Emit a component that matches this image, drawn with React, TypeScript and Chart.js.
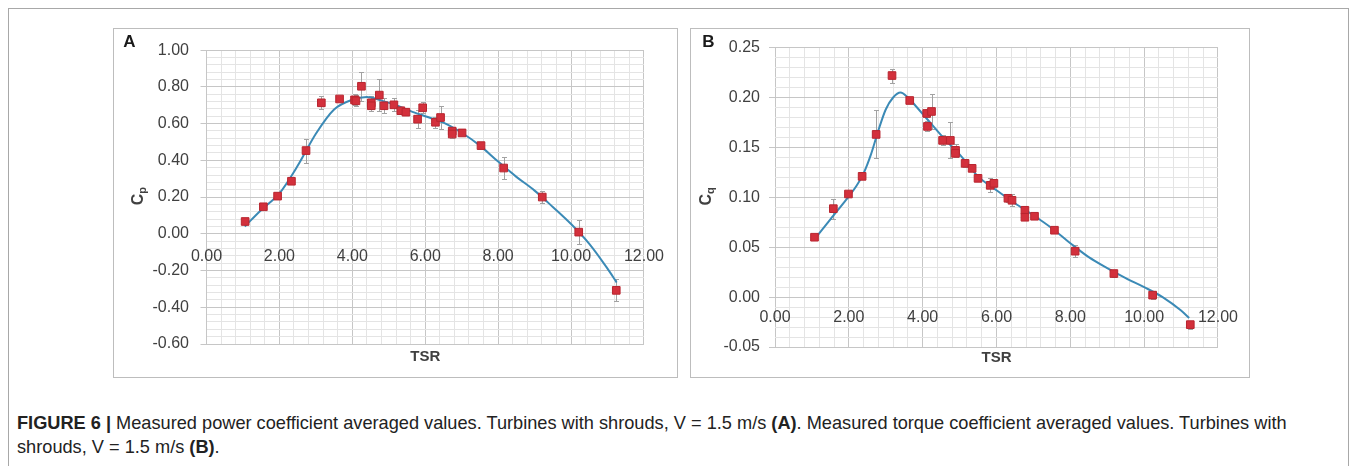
import React, { useEffect, useRef } from "react";
import { Chart, registerables } from "chart.js";

Chart.register(...registerables);

// ---- Panel A: power coefficient Cp against tip speed ratio ----
const tsrA = [1.06, 1.56, 1.95, 2.33, 2.73, 3.15, 3.65, 4.06, 4.1, 4.25, 4.52, 4.52, 4.74, 4.87, 5.14, 5.33, 5.47, 5.79, 5.93, 6.28, 6.42, 6.74, 6.74, 7.01, 7.53, 8.15, 9.21, 10.21, 11.24];
const cpA = [0.067, 0.147, 0.205, 0.286, 0.453, 0.713, 0.734, 0.729, 0.724, 0.803, 0.713, 0.697, 0.755, 0.697, 0.702, 0.67, 0.662, 0.624, 0.686, 0.607, 0.633, 0.559, 0.543, 0.549, 0.48, 0.358, 0.2, 0.009, -0.308];
const cpErrA = [0.01, 0.01, 0.012, 0.012, 0.065, 0.035, 0.012, 0.03, 0.03, 0.08, 0.035, 0.03, 0.085, 0.04, 0.035, 0.012, 0.012, 0.05, 0.03, 0.03, 0.06, 0.02, 0.02, 0.012, 0.012, 0.06, 0.035, 0.065, 0.06];
const trendTsrA = [1.05, 1.5, 2.0, 2.5, 3.0, 3.5, 4.0, 4.4, 4.8, 5.2, 5.6, 6.0, 6.5, 7.0, 7.5, 8.0, 8.5, 9.0, 9.5, 10.0, 10.5, 11.0, 11.25];
const trendCpA = [0.04, 0.13, 0.22, 0.37, 0.545, 0.677, 0.73, 0.745, 0.725, 0.7, 0.668, 0.64, 0.605, 0.55, 0.48, 0.393, 0.31, 0.235, 0.146, 0.053, -0.055, -0.19, -0.265];
const yMajorsA = [-0.6, -0.4, -0.2, 0, 0.2, 0.4, 0.6, 0.8, 1.0];

// ---- Panel B: torque coefficient Cq against tip speed ratio ----
const tsrB = [1.07, 1.58, 1.99, 2.36, 2.74, 3.17, 3.65, 4.11, 4.13, 4.24, 4.54, 4.75, 4.89, 4.89, 5.15, 5.34, 5.5, 5.83, 5.93, 6.31, 6.42, 6.77, 6.77, 7.03, 7.57, 8.13, 9.18, 10.23, 11.25];
const cqB = [0.06, 0.0886, 0.1033, 0.121, 0.163, 0.222, 0.197, 0.184, 0.171, 0.186, 0.157, 0.157, 0.147, 0.144, 0.134, 0.129, 0.119, 0.112, 0.114, 0.099, 0.097, 0.087, 0.08, 0.081, 0.067, 0.046, 0.0236, 0.002, -0.0276];
const cqErrB = [0.003, 0.01, 0.003, 0.003, 0.024, 0.007, 0.002, 0.004, 0.005, 0.018, 0.005, 0.018, 0.006, 0.004, 0.004, 0.003, 0.002, 0.007, 0.004, 0.004, 0.006, 0.004, 0.003, 0.002, 0.002, 0.006, 0.003, 0.004, 0.004];
const trendTsrB = [1.07, 1.5, 2.0, 2.2, 2.4, 2.6, 2.8, 3.0, 3.2, 3.4, 3.6, 3.8, 4.2, 4.6, 5.0, 5.5, 6.0, 6.5, 7.0, 7.5, 8.0, 8.5, 9.0, 9.5, 10.0, 10.5, 11.0, 11.22];
const trendCqB = [0.058, 0.078, 0.101, 0.111, 0.124, 0.143, 0.167, 0.188, 0.2, 0.205, 0.2, 0.192, 0.175, 0.158, 0.143, 0.121, 0.107, 0.094, 0.082, 0.069, 0.054, 0.04, 0.029, 0.019, 0.01, 0.0, -0.0135, -0.021];
const yMajorsB = [-0.05, 0, 0.05, 0.1, 0.15, 0.2, 0.25];

// shared horizontal axis
const xMajors = [0, 2, 4, 6, 8, 10, 12];

const TEXT = "#404040";
const GRID_MAJOR = "#c6c6c6";
const GRID_MINOR = "#e4e4e4";
const MARKER = "#d3303c";
const MARKER_EDGE = "#b8252f";
const TREND = "#3b8ab6";
const FONT = "'Liberation Sans', Arial, sans-serif";

type Tick = { value: number; isMajor: boolean };

// majors plus evenly spaced minor subdivisions between them
function withMinors(majors: number[], parts: number): Tick[] {
  const out: Tick[] = [];
  for (let i = 0; i < majors.length - 1; i++) {
    const a = majors[i];
    const b = majors[i + 1];
    for (let k = 0; k < parts; k++) {
      out.push({ value: k === 0 ? a : a + ((b - a) * k) / parts, isMajor: k === 0 });
    }
  }
  out.push({ value: majors[majors.length - 1], isMajor: true });
  return out;
}

const decorPlugin = {
  id: "decor",
  beforeDatasetsDraw(chart: any, _args: any, opts: any) {
    const { ctx } = chart;
    const meta = chart.getDatasetMeta(0);
    const ys = chart.scales.y;
    ctx.save();
    ctx.strokeStyle = "#a2a2a2";
    ctx.lineWidth = 1;
    opts.errors.forEach((e: number, i: number) => {
      const pt = meta.data[i];
      if (!pt) return;
      const v = opts.values[i];
      const x = Math.round(pt.x) + 0.5;
      const yTop = Math.round(ys.getPixelForValue(v + e)) + 0.5;
      const yBot = Math.round(ys.getPixelForValue(v - e)) + 0.5;
      ctx.beginPath();
      ctx.moveTo(x, yTop);
      ctx.lineTo(x, yBot);
      ctx.moveTo(x - 2.5, yTop);
      ctx.lineTo(x + 2.5, yTop);
      ctx.moveTo(x - 2.5, yBot);
      ctx.lineTo(x + 2.5, yBot);
      ctx.stroke();
    });
    ctx.restore();
  },
  afterDraw(chart: any, _args: any, opts: any) {
    const { ctx, chartArea } = chart;
    ctx.save();
    ctx.fillStyle = TEXT;
    // horizontal axis title
    ctx.font = `bold 15px ${FONT}`;
    ctx.textAlign = "center";
    ctx.textBaseline = "middle";
    ctx.fillText("TSR", (chartArea.left + chartArea.right) / 2, chartArea.bottom + opts.tsrGap);

    // vertical axis title with subscript, rotated
    ctx.save();
    ctx.translate(chartArea.left - 69, (chartArea.top + chartArea.bottom) / 2 - 1);
    ctx.rotate(-Math.PI / 2);
    ctx.font = `bold 16px ${FONT}`;
    const wC = ctx.measureText("C").width;
    ctx.font = `bold 11px ${FONT}`;
    const wS = ctx.measureText(opts.sub).width;
    const start = -(wC + wS) / 2;
    ctx.textAlign = "left";
    ctx.textBaseline = "alphabetic";
    ctx.font = `bold 16px ${FONT}`;
    ctx.fillText("C", start, 5);
    ctx.font = `bold 11px ${FONT}`;
    ctx.fillText(opts.sub, start + wC, 8);
    ctx.restore();

    // panel letter
    ctx.fillStyle = "#1a1a1a";
    ctx.font = `bold 17px ${FONT}`;
    ctx.textAlign = "center";
    ctx.textBaseline = "middle";
    ctx.fillText(opts.letter, opts.letterX, opts.letterY);
    ctx.restore();
  },
};

type PanelProps = {
  left: number;
  top: number;
  width: number;
  height: number;
  plotLeft: number;
  padRight: number;
  padTop: number;
  padBottom: number;
  tsr: number[];
  values: number[];
  errors: number[];
  trendX: number[];
  trendY: number[];
  yMajors: number[];
  letter: string;
  sub: string;
  letterX: number;
  letterY: number;
  tsrGap: number;
  xLabelPad: number;
  yLabelPad: number;
};

function CoefficientPanel(p: PanelProps) {
  const ref = useRef<HTMLCanvasElement | null>(null);

  useEffect(() => {
    if (!ref.current) return;
    const xTicks = withMinors(xMajors, 5);
    const yTicks = withMinors(p.yMajors, 5);
    const gridColor = (c: any) => (c.tick && c.tick.isMajor ? GRID_MAJOR : GRID_MINOR);
    const label = (_v: any, i: number, ticks: any[]) =>
      ticks[i] && ticks[i].isMajor ? Number(ticks[i].value).toFixed(2) : "";

    const chart = new Chart(ref.current, {
      type: "scatter",
      data: {
        datasets: [
          {
            label: "measured",
            data: p.tsr.map((x, i) => ({ x, y: p.values[i] })),
            pointStyle: "rect",
            pointRadius: 5.4,
            pointHoverRadius: 5.4,
            backgroundColor: MARKER,
            borderColor: MARKER_EDGE,
            borderWidth: 1,
            showLine: false,
          },
          {
            label: "trend",
            data: p.trendX.map((x, i) => ({ x, y: p.trendY[i] })),
            showLine: true,
            pointRadius: 0,
            borderColor: TREND,
            borderWidth: 2,
            cubicInterpolationMode: "monotone",
            fill: false,
          },
        ],
      } as any,
      options: {
        animation: false,
        responsive: false,
        events: [],
        layout: { padding: { left: 0, right: p.padRight, top: p.padTop, bottom: p.padBottom } },
        plugins: {
          legend: { display: false },
          tooltip: { enabled: false },
          decor: {
            errors: p.errors,
            values: p.values,
            letter: p.letter,
            sub: p.sub,
            letterX: p.letterX,
            letterY: p.letterY,
            tsrGap: p.tsrGap,
          },
        } as any,
        scales: {
          x: {
            type: "linear",
            position: { y: 0 } as any,
            min: xMajors[0],
            max: xMajors[xMajors.length - 1],
            afterBuildTicks: (s: any) => {
              s.ticks = xTicks.map((t) => ({ ...t }));
            },
            grid: { color: gridColor, drawTicks: false, lineWidth: 1 },
            border: { display: false },
            ticks: {
              autoSkip: false,
              maxRotation: 0,
              padding: p.xLabelPad,
              color: TEXT,
              font: { family: FONT, size: 16 },
              callback: label,
            },
          },
          y: {
            type: "linear",
            min: p.yMajors[0],
            max: p.yMajors[p.yMajors.length - 1],
            afterBuildTicks: (s: any) => {
              s.ticks = yTicks.map((t) => ({ ...t }));
            },
            afterFit: (s: any) => {
              s.width = p.plotLeft;
            },
            grid: {
              color: gridColor,
              drawTicks: true,
              tickLength: 6,
              tickColor: (c: any) => (c.tick && c.tick.isMajor ? GRID_MAJOR : "rgba(0,0,0,0)"),
              lineWidth: 1,
            },
            border: { display: false },
            ticks: {
              autoSkip: false,
              padding: p.yLabelPad,
              color: TEXT,
              font: { family: FONT, size: 16 },
              callback: label,
            },
          },
        },
      } as any,
      plugins: [decorPlugin],
    });
    return () => chart.destroy();
  }, []);

  return (
    <div
      style={{
        position: "absolute",
        left: p.left,
        top: p.top,
        width: p.width,
        height: p.height,
        border: "1px solid #bdbdbd",
        boxSizing: "border-box",
        background: "#fff",
      }}
    >
      <canvas
        ref={ref}
        width={p.width - 2}
        height={p.height - 2}
        style={{ display: "block", width: p.width - 2, height: p.height - 2 }}
      />
    </div>
  );
}

export default function App() {
  return (
    <div
      style={{
        position: "absolute",
        left: 0,
        top: 0,
        width: 1357,
        height: 466,
        overflow: "hidden",
        background: "#fff",
        fontFamily: FONT,
      }}
    >
      <div
        style={{
          position: "absolute",
          left: 8,
          top: 8,
          width: 1341,
          height: 500,
          border: "1px solid #a8a8a8",
          boxSizing: "border-box",
        }}
      />
      <CoefficientPanel
        left={113}
        top={28}
        width={565}
        height={350}
        plotLeft={92.5}
        padRight={28.5}
        padTop={13}
        padBottom={33}
        tsr={tsrA}
        values={cpA}
        errors={cpErrA}
        trendX={trendTsrA}
        trendY={trendCpA}
        yMajors={yMajorsA}
        letter="A"
        sub="p"
        letterX={15.5}
        letterY={13.5}
        tsrGap={13}
        xLabelPad={13}
        yLabelPad={11.5}
      />
      <CoefficientPanel
        left={690}
        top={28}
        width={560}
        height={350}
        plotLeft={84}
        padRight={27}
        padTop={13}
        padBottom={30}
        tsr={tsrB}
        values={cqB}
        errors={cqErrB}
        trendX={trendTsrB}
        trendY={trendCqB}
        yMajors={yMajorsB}
        letter="B"
        sub="q"
        letterX={17.5}
        letterY={13}
        tsrGap={11}
        xLabelPad={11}
        yLabelPad={9}
      />
      <div
        style={{
          position: "absolute",
          left: 17,
          top: 411,
          width: 1320,
          fontSize: 18.2,
          lineHeight: "24px",
          color: "#222",
          whiteSpace: "nowrap",
        }}
      >
        <b>FIGURE 6 |</b> Measured power coefficient averaged values. Turbines with shrouds, V = 1.5 m/s <b>(A)</b>. Measured torque coefficient averaged values. Turbines with
        <br />
        shrouds, V = 1.5 m/s <b>(B)</b>.
      </div>
    </div>
  );
}
